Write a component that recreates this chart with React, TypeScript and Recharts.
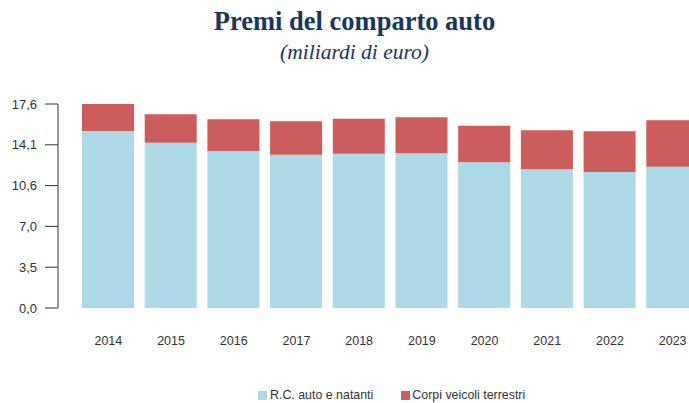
import { BarChart, Bar, XAxis, YAxis } from 'recharts';

const years = ['2014', '2015', '2016', '2017', '2018', '2019', '2020', '2021', '2022', '2023'];
const rcAuto = [15.27, 14.26, 13.55, 13.23, 13.31, 13.35, 12.57, 11.97, 11.73, 12.19];
const corpiVeicoli = [2.33, 2.45, 2.73, 2.88, 3.02, 3.1, 3.16, 3.36, 3.52, 4.01];
const yTicks = [0, 3.52, 7.04, 10.56, 14.08, 17.6];

const BLUE = '#add8e6';
const RED = '#cd5c5c';
const NAVY = '#17375e';

const data = years.map((year, i) => ({
  year,
  rc: rcAuto[i],
  corpi: corpiVeicoli[i],
}));

const fmt = (v: number) => v.toFixed(1).replace('.', ',');

export default function App() {
  return (
    <div
      style={{
        position: 'absolute',
        top: 0,
        left: 0,
        width: 689,
        height: 403,
        overflow: 'hidden',
        background: '#fff',
      }}
    >
      <div
        style={{
          position: 'absolute',
          top: 5,
          left: 10,
          width: 689,
          textAlign: 'center',
          fontFamily: '"Liberation Serif", serif',
          color: NAVY,
        }}
      >
        <div style={{ fontSize: 26.5, fontWeight: 'bold', lineHeight: '32px' }}>Premi del comparto auto</div>
        <div style={{ fontSize: 21.5, fontStyle: 'italic', lineHeight: '28px', marginTop: 1 }}>(miliardi di euro)</div>
      </div>

      <div style={{ position: 'absolute', top: 0, left: 0 }}>
        <BarChart
          width={740}
          height={403}
          data={data}
          margin={{ top: 104, right: 17, bottom: 65, left: 0 }}
          style={{ fontFamily: 'Arial, "Liberation Sans", sans-serif' }}
        >
          <XAxis
            dataKey="year"
            axisLine={false}
            tickLine={false}
            tickSize={0}
            tickMargin={28}
            padding={{ left: 19, right: 19 }}
            tick={{ fill: '#333', fontSize: 12.5 }}
            height={30}
          />
          <YAxis
            width={58}
            domain={[0, 17.6]}
            allowDataOverflow
            ticks={yTicks}
            tickFormatter={fmt}
            tickSize={13}
            tickMargin={8}
            axisLine={{ stroke: '#333' }}
            tickLine={{ stroke: '#333' }}
            tick={{ fill: '#333', fontSize: 13 }}
          />
          <Bar dataKey="rc" stackId="a" fill={BLUE} barSize={52} isAnimationActive={false} />
          <Bar dataKey="corpi" stackId="a" fill={RED} barSize={52} isAnimationActive={false} />
        </BarChart>
      </div>

      <div
        style={{
          position: 'absolute',
          top: 388,
          left: 258,
          display: 'flex',
          alignItems: 'center',
          fontFamily: 'Arial, "Liberation Sans", sans-serif',
          fontSize: 12.4,
          lineHeight: '14px',
          color: '#333',
          whiteSpace: 'nowrap',
        }}
      >
        <span style={{ display: 'inline-block', width: 9, height: 9, background: BLUE, marginRight: 3 }} />
        <span>R.C. auto e natanti</span>
        <span style={{ display: 'inline-block', width: 9, height: 9, background: RED, marginLeft: 28, marginRight: 2 }} />
        <span>Corpi veicoli terrestri</span>
      </div>
    </div>
  );
}
